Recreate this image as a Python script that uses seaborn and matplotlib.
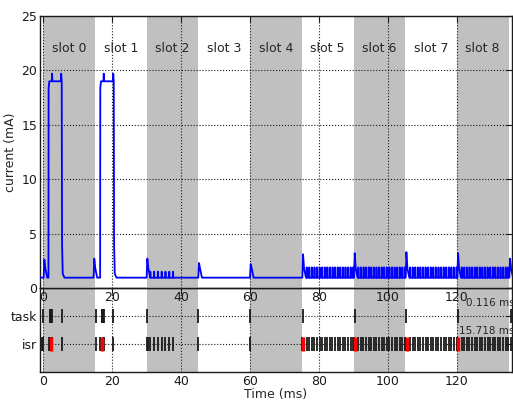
import numpy as np
import pandas as pd
import seaborn as sns
import matplotlib.pyplot as plt

# slots
slot_names = ['slot %d' % k for k in range(9)]
slot_starts = [0, 15, 30, 45, 60, 75, 90, 105, 120]
slot_len = 15

# current trace (ms, mA)
base_mA = 0.95
pulse_on = [1.5, 16.5]
pulse_off = [5.4, 20.5]
pulse_mA = 19.0
pulse_peak = 19.7
spike_t = [0.1, 14.6, 30.0, 45.0, 60.0, 75.2, 90.2, 105.2, 120.2, 135.3]
spike_mA = [2.6, 2.7, 2.7, 2.3, 2.2, 3.1, 3.2, 3.3, 3.2, 2.7]
blip_t = [31.0, 32.1, 33.2, 34.3, 35.4, 36.5, 37.6]
blip_mA = 1.5
busy_slots = [75, 90, 105, 120]
busy_offsets = [1.4, 2.15, 2.9, 3.65, 4.4, 5.15, 5.9, 6.65, 7.4, 8.15,
                8.9, 9.65, 10.4, 11.15, 11.9, 12.65, 13.4, 14.15, 14.9]
busy_mA = 1.9

# events
task_t = [0.0, 1.8, 2.0, 2.2, 2.4, 5.3, 15.2, 16.9, 17.1, 17.3, 17.5, 20.2,
          30.0, 45.0, 60.0, 75.3, 90.3, 105.3, 120.3, 135.6]
isr_t = [-0.3, 0.0, 1.5, 1.8, 2.4, 2.6, 5.3, 15.2, 16.5, 17.4, 17.7, 20.2,
         30.0, 30.4, 31.0, 32.1, 33.2, 34.3, 35.4, 36.5, 37.6, 45.0, 60.0, 135.6]
isr_red_t = [2.1, 17.0, 75.4, 90.4, 105.4, 120.4]
notes = ['0.116 ms', '15.718 ms']

# build the trace from the points above
pts = [(-1.0, base_mA), (137.0, base_mA)]
for a, b in zip(pulse_on, pulse_off):
    pts += [(a - 0.05, base_mA), (a, 18.4), (a + 0.2, pulse_mA), (a + 0.9, pulse_mA),
            (a + 1.0, pulse_peak), (a + 1.1, pulse_mA), (b - 0.35, pulse_mA),
            (b - 0.25, pulse_peak), (b - 0.1, pulse_mA), (b, 4.0), (b + 0.2, 1.3),
            (b + 0.7, base_mA)]
for t, h in zip(spike_t, spike_mA):
    pts += [(t - 0.05, base_mA), (t + 0.15, h), (t + 0.45, 1.8), (t + 1.0, base_mA)]
for t in blip_t:
    pts += [(t - 0.02, base_mA), (t, blip_mA), (t + 0.05, blip_mA - 0.05), (t + 0.07, base_mA)]
for s in busy_slots:
    for o in busy_offsets:
        t = s + o
        pts += [(t - 0.02, base_mA), (t, busy_mA), (t + 0.05, busy_mA - 0.05), (t + 0.07, base_mA)]
pts.sort()
trace = pd.DataFrame(pts, columns=['t', 'mA'])

busy_t = [s + o for s in busy_slots for o in busy_offsets]
isr_all = isr_t + [s for s in busy_slots] + busy_t

sns.set_theme(style='white')
plt.rcParams['font.family'] = ['DejaVu Sans']

fig = plt.figure(figsize=(5.13, 4.0), dpi=100)
ax = fig.add_axes([0.078, 0.28, 0.92, 0.68])
ax2 = fig.add_axes([0.078, 0.07, 0.92, 0.21], sharex=ax)
ax.set_zorder(2)
ax.patch.set_alpha(0)

for a in (ax, ax2):
    for k, s in enumerate(slot_starts):
        if k % 2 == 0:
            a.axvspan(s, s + slot_len, color='silver', lw=0, zorder=0)
    a.grid(True, ls=':', color='k', lw=0.8)
    a.set_axisbelow(False)
    a.tick_params(direction='in', top=True, right=True, length=4, width=0.8,
                  labelsize=9, colors='k', pad=2)
    for sp in a.spines.values():
        sp.set_color('k')
        sp.set_linewidth(1.0)

for k, s in enumerate(slot_starts):
    ax.text(s + slot_len / 2, 22, slot_names[k], ha='center', va='center', fontsize=9)

sns.lineplot(data=trace, x='t', y='mA', ax=ax, color='blue', lw=1.3,
             estimator=None, sort=False, zorder=3)
ax.set_ylim(0, 25)
ax.set_yticks([0, 5, 10, 15, 20, 25])
ax.set_xlim(-1, 136)
ax.set_xticks([0, 20, 40, 60, 80, 100, 120])
ax.tick_params(labelbottom=True)
ax.set_xlabel('')
ax.set_ylabel('current (mA)', fontsize=9, labelpad=3)

sns.scatterplot(x=task_t, y=[1] * len(task_t), ax=ax2, marker='|', s=110,
                color='k', linewidth=1.3, zorder=3)
sns.scatterplot(x=isr_all, y=[0] * len(isr_all), ax=ax2, marker='|', s=110,
                color='k', linewidth=1.3, zorder=3)
sns.scatterplot(x=isr_red_t, y=[0] * len(isr_red_t), ax=ax2, marker='|', s=110,
                color='red', linewidth=2.5, zorder=4)
ax2.set_ylim(-1, 2)
ax2.set_yticks([0, 1])
ax2.set_yticklabels(['isr', 'task'])
ax2.set_xlim(-1, 136)
ax2.set_xlabel('Time (ms)', fontsize=9, labelpad=0)
ax2.text(136.8, 1.28, notes[0], ha='right', va='bottom', fontsize=7.5)
ax2.text(136.8, 0.28, notes[1], ha='right', va='bottom', fontsize=7.5)

fig.savefig('out.png', dpi=100)
